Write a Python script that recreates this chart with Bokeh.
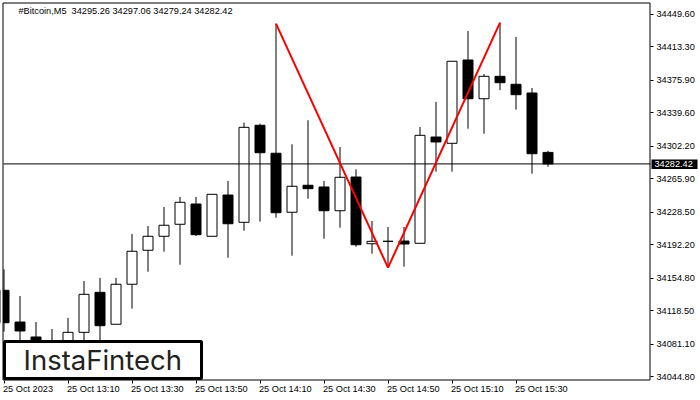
from bokeh.plotting import figure
from bokeh.models import ColumnDataSource, FixedTicker, Label, BoxAnnotation, LinearAxis, Range1d
from bokeh.embed import file_html
from bokeh.resources import INLINE

opens = [34141.5,34106.1,34089.4,34073.8,34079.4,34094.6,34139.2,34103.6,34148.2,34186.1,34201.7,34215.1,
         34237.7,34201.7,34247.7,34217.3,34325.5,34294.3,34228.5,34258.6,34256.7,34230.2,34267.8,34193.4,
         34196.1,34196.4,34193.9,34312.4,34305.4,34398.3,34355.1,34380.1,34371.2,34361.5,34295.26]
closes = [34105.3,34096.1,34079.4,34082.7,34094.6,34137.0,34102.0,34148.2,34185.0,34201.7,34214.0,34239.6,
          34203.5,34248.5,34215.7,34323.2,34294.9,34228.0,34257.5,34254.8,34230.2,34267.5,34192.3,34196.1,
          34196.1,34193.1,34314.3,34306.9,34396.9,34355.1,34380.1,34373.0,34359.6,34293.8,34282.42]
highs = [34164.9,34135.1,34106.1,34098.3,34110.6,34151.8,34155.2,34155.2,34204.3,34213.2,34234.4,34245.5,
         34245.5,34248.5,34263.4,34328.4,34327.3,34438.8,34304.3,34331.1,34263.4,34301.3,34276.4,34218.8,
         34212.1,34212.1,34323.6,34351.5,34396.9,34430.6,34382.7,34439.9,34424.0,34367.1,34297.06]
lows = [34095.3,34079.4,34071.5,34068.2,34062.6,34082.7,34079.4,34103.6,34121.0,34162.2,34184.5,34170.0,
        34202.0,34201.7,34177.8,34207.9,34218.0,34222.4,34180.1,34243.6,34199.0,34211.3,34190.1,34182.3,
        34166.7,34167.8,34193.9,34273.7,34273.7,34321.7,34316.1,34364.8,34342.9,34271.5,34279.24]

pattern_index = [17, 24, 31]
pattern_price = [34438.8, 34166.7, 34439.9]

y_ticks = [34449.60,34413.30,34375.90,34339.60,34302.20,34265.90,34228.50,34192.20,34154.80,34118.50,34081.10,34044.80]
x_ticks = [0, 4, 8, 12, 16, 20, 24, 28, 32]
x_tick_labels = ["25 Oct 2023","25 Oct 13:10","25 Oct 13:30","25 Oct 13:50","25 Oct 14:10",
                 "25 Oct 14:30","25 Oct 14:50","25 Oct 15:10","25 Oct 15:30"]
last_price = 34282.42
caption = "#Bitcoin,M5\u00a0\u00a034295.26 34297.06 34279.24 34282.42"
logo_text = "InstaFintech"

PX_X = 16.0       # px per candle
PX_Y = 1.1152     # price per px

def dx(px):
    return (px - 3.5) / PX_X

def dy(px):
    return 34449.6 - (px - 13.5) * PX_Y

p = figure(width=700, height=400, output_backend="svg", toolbar_location=None,
           x_range=Range1d(dx(0), dx(700)), y_range=Range1d(dy(400), dy(0)),
           x_axis_location=None, y_axis_location=None,
           min_border=0, min_border_left=0, min_border_right=0, min_border_top=0, min_border_bottom=0,
           background_fill_color="white", border_fill_color="white")
p.grid.visible = False
p.outline_line_color = None

FONT = "Liberation Sans"
FS = "9.2px"

ax = LinearAxis(fixed_location=dx(650), bounds=(dy(380), dy(3)))
ax.ticker = FixedTicker(ticks=y_ticks)
ax.major_label_overrides = {v: f"{v:.2f}" for v in y_ticks}
ax.major_tick_out = 3
ax.major_tick_in = 0
ax.minor_tick_out = 0
ax.minor_tick_in = 0
ax.major_label_standoff = 3
ax.major_label_text_font = FONT
ax.major_label_text_font_size = FS
ax.major_label_text_color = "black"
ax.axis_line_color = None
ax.major_tick_line_color = "black"
p.add_layout(ax, "right")

bx = LinearAxis(fixed_location=dy(380), bounds=(dx(3), dx(650)))
bx.ticker = FixedTicker(ticks=x_ticks)
bx.major_label_overrides = {k: " " for k in x_ticks}
bx.major_tick_out = 3
bx.major_tick_in = 0
bx.minor_tick_out = 0
bx.minor_tick_in = 0
bx.major_label_text_font_size = "1px"
bx.axis_line_color = None
bx.major_tick_line_color = "black"
p.add_layout(bx, "below")

idx = list(range(len(opens)))
src = ColumnDataSource(dict(
    x=idx, open=opens, close=closes, high=highs, low=lows,
    fill=["white" if c >= o else "black" for o, c in zip(opens, closes)],
))
p.segment("x", "high", "x", "low", source=src, line_color="black", line_width=1)
p.vbar("x", width=10 / PX_X, top="open", bottom="close", source=src,
       fill_color="fill", line_color="black", line_width=1)

p.segment([dx(3)], [last_price], [dx(650)], [last_price], line_color="black", line_width=1)
p.line(pattern_index, pattern_price, line_color="#ff0000", line_width=2)

# mask left of the chart frame, then the frame itself
p.add_layout(BoxAnnotation(left=dx(0), right=dx(2.5), top=dy(0), bottom=dy(400),
                           fill_color="white", fill_alpha=1, line_color=None, level="annotation"))
p.add_layout(BoxAnnotation(left=dx(2.5), right=dx(649.5), top=dy(2.5), bottom=dy(379.5),
                           fill_alpha=0, line_color="black", line_alpha=1, line_width=1, level="annotation"))

p.add_layout(BoxAnnotation(left=dx(4), right=dx(201), top=dy(341), bottom=dy(378),
                           fill_color="white", fill_alpha=1, line_color="black", line_alpha=1, line_width=3,
                           level="overlay"))
p.add_layout(Label(x=dx(23), y=dy(359.5), text=logo_text, text_font="Inter", text_font_size="27.5px",
                   text_color="#222222", text_baseline="middle", level="overlay"))

p.add_layout(Label(x=dx(18), y=dy(10.7), text=caption, text_font=FONT, text_font_size=FS,
                   text_color="black", text_baseline="middle"))

for k, t in zip(x_ticks, x_tick_labels):
    p.add_layout(Label(x=k, y=dy(388.5), x_offset=-1, text=t, text_font=FONT, text_font_size=FS,
                       text_color="black", text_baseline="middle", level="overlay"))

p.add_layout(BoxAnnotation(left=dx(651), right=dx(697), top=dy(159), bottom=dy(168.5),
                           fill_color="black", fill_alpha=1, line_color=None, level="overlay"))
p.add_layout(Label(x=dx(654), y=dy(163.8), text=f"{last_price:.2f}", text_font=FONT, text_font_size=FS,
                   text_color="white", text_baseline="middle", level="overlay"))

open("out.html", "w").write(file_html(p, INLINE))
